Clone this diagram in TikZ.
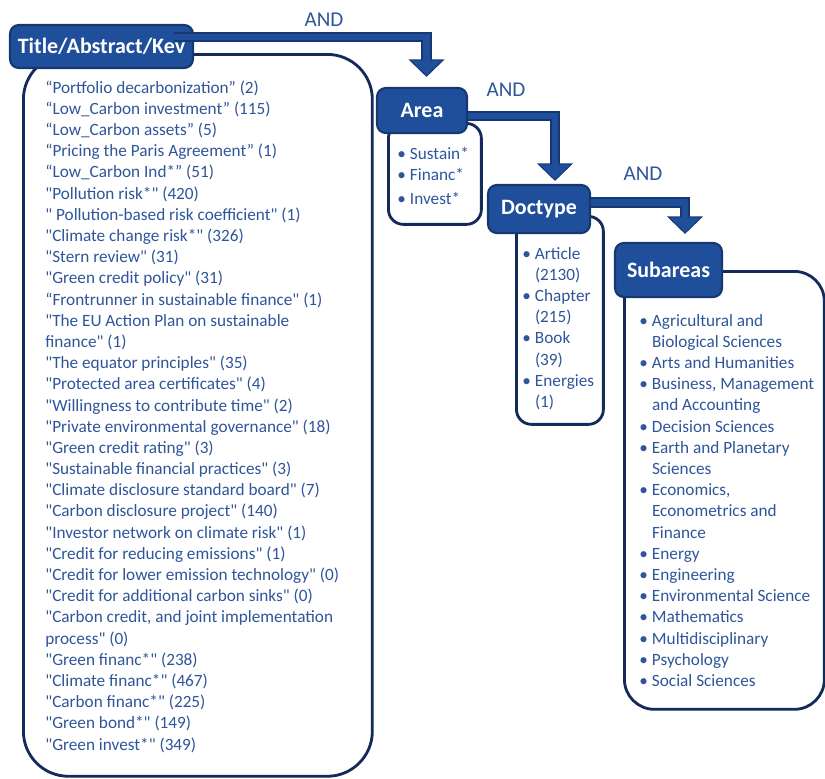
\documentclass[tikz,border=0pt]{standalone}
\usepackage{fontspec}
\setmainfont{Carlito}
\newfontfamily\carlito{Carlito}
\usetikzlibrary{arrows.meta, calc}

\definecolor{hdrblue}{RGB}{31,78,155}
\definecolor{hdredge}{RGB}{22,55,112}
\definecolor{frameblue}{RGB}{20,42,90}
\definecolor{txtblue}{RGB}{47,85,155}

\tikzset{
  frame/.style={draw=frameblue, line width=1.6pt, fill=white, anchor=north west, inner sep=0pt},
  hdr/.style={draw=hdredge, line width=1.2pt, fill=hdrblue, rounded corners=5pt, text=white,
    font=\carlito\fontsize{12.5}{15}\selectfont\bfseries, inner sep=0pt},
  lst/.style={text=txtblue, font=\carlito\fontsize{9.8}{12.06}\selectfont, anchor=north west, inner sep=0pt},
  andlbl/.style={text=txtblue, font=\carlito\fontsize{12}{14}\selectfont, inner sep=0pt},
  arrowedge/.style={draw=hdredge, line width=5.7pt, -{Triangle[width=20pt,length=10pt]}},
  arrowfill/.style={draw=hdrblue, line width=3.9pt, shorten >=0.9pt, -{Triangle[width=17pt,length=8.5pt]}}
}
\newcommand{\blt}{\makebox[7.2pt][l]{\textbullet}}

\begin{document}
\begin{tikzpicture}[x=0.02cm, y=-0.02cm]
\useasboundingbox (0,0) rectangle (825,778);
%\draw[step=50,gray,very thin] (0,0) grid (825,778); %background grid

% list frames
\node[frame, rounded corners=0.9cm, minimum width=6.98cm, minimum height=14.44cm] (kwframe) at (22,53) {};
\node[frame, rounded corners=0.3cm, minimum width=1.86cm, minimum height=2.02cm] (areaframe) at (387,122) {};
\node[frame, rounded corners=0.3cm, minimum width=1.74cm, minimum height=4.16cm] (docframe) at (515,215) {};
\node[frame, rounded corners=0.6cm, minimum width=4cm, minimum height=8.76cm] (subframe) at (623,270) {};

% headers
\node[hdr, minimum width=3.66cm, minimum height=0.86cm] (title) at (101.5,46.5) {Title/Abstract/Kev};
\node[hdr, minimum width=1.8cm, minimum height=0.9cm] (area) at (422,110.5) {Area};
\node[hdr, minimum width=2.04cm, minimum height=0.96cm] (doctype) at (539,209) {Doctype};
\node[hdr, minimum width=2.14cm, minimum height=1.08cm] (subareas) at (668.5,270) {Subareas};

% search terms
\node[lst] (kwlist) at (45,78) {\begin{tabular}{@{}l@{}}
“Portfolio decarbonization” (2)\\
“Low\_Carbon investment” (115)\\
“Low\_Carbon assets” (5)\\
“Pricing the Paris Agreement” (1)\\
“Low\_Carbon Ind*” (51)\\
"Pollution risk*" (420)\\
" Pollution-based risk coefficient" (1)\\
"Climate change risk*" (326)\\
"Stern review" (31)\\
"Green credit policy" (31)\\
“Frontrunner in sustainable finance" (1)\\
"The EU Action Plan on sustainable\\
finance" (1)\\
"The equator principles" (35)\\
"Protected area certificates" (4)\\
"Willingness to contribute time" (2)\\
"Private environmental governance" (18)\\
"Green credit rating" (3)\\
"Sustainable financial practices" (3)\\
"Climate disclosure standard board" (7)\\
"Carbon disclosure project" (140)\\
"Investor network on climate risk" (1)\\
"Credit for reducing emissions" (1)\\
"Credit for lower emission technology" (0)\\
"Credit for additional carbon sinks" (0)\\
"Carbon credit, and joint implementation\\
process" (0)\\
"Green financ*" (238)\\
"Climate financ*" (467)\\
"Carbon financ*" (225)\\
"Green bond*" (149)\\
"Green invest*" (349)
\end{tabular}};

\node[lst] (arealist) at (397,144) {\begin{tabular}{@{}l@{}}
\blt Sustain*\\
\blt Financ*\\[1.5pt]
\blt Invest*
\end{tabular}};

\node[lst] (doclist) at (522,244) {\begin{tabular}{@{}l@{}}
\blt Article\\
\hspace{7.2pt}(2130)\\
\blt Chapter\\
\hspace{7.2pt}(215)\\
\blt Book\\
\hspace{7.2pt}(39)\\
\blt Energies\\
\hspace{7.2pt}(1)
\end{tabular}};

\node[lst] (sublist) at (639,311) {\begin{tabular}{@{}l@{}}
\blt Agricultural and\\
\hspace{7.2pt}Biological Sciences\\
\blt Arts and Humanities\\
\blt Business, Management\\
\hspace{7.2pt}and Accounting\\
\blt Decision Sciences\\
\blt Earth and Planetary\\
\hspace{7.2pt}Sciences\\
\blt Economics,\\
\hspace{7.2pt}Econometrics and\\
\hspace{7.2pt}Finance\\
\blt Energy\\
\blt Engineering\\
\blt Environmental Science\\
\blt Mathematics\\
\blt Multidisciplinary\\
\blt Psychology\\
\blt Social Sciences
\end{tabular}};

% AND labels
\node[andlbl] (and1) at (324,20) {AND};
\node[andlbl] (and2) at (506,90) {AND};
\node[andlbl] (and3) at (643,174) {AND};

% block arrows
\draw[arrowedge] ($(title.east)+(-20,-9.5)$) -| ($(area.north)+(4.5,-10)$);
\draw[arrowfill] ($(title.east)+(-20,-9.5)$) -| ($(area.north)+(4.5,-10)$);
\draw[arrowedge] ($(area.east)+(0,5.5)$) -| ($(doctype.north)+(16,-3)$);
\draw[arrowfill] ($(area.east)+(0,5.5)$) -| ($(doctype.north)+(16,-3)$);
\draw[arrowedge] ($(doctype.east)+(0,-6.5)$) -| ($(subareas.north)+(16.5,-8)$);
\draw[arrowfill] ($(doctype.east)+(0,-6.5)$) -| ($(subareas.north)+(16.5,-8)$);
\end{tikzpicture}
\end{document}
